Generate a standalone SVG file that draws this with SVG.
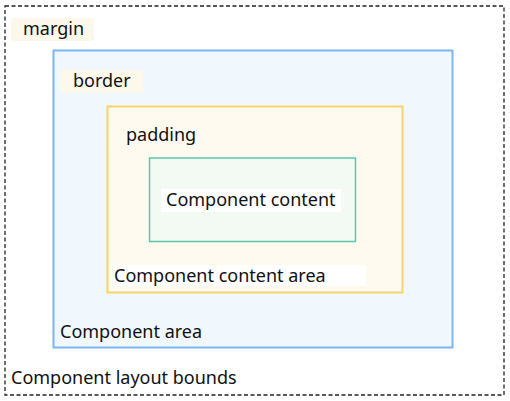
<svg xmlns="http://www.w3.org/2000/svg" width="510" height="401" viewBox="0 0 510 401">
<style>
text{font-family:"Noto Sans","Liberation Sans",sans-serif;font-size:18px;fill:#111111}
</style>
<rect width="510" height="401" fill="#ffffff"/>
<g id="layout-bounds">
<rect x="5" y="6" width="499" height="389" fill="#ffffff" stroke="#222222" stroke-width="1.3" stroke-dasharray="4 2.5"/>
<rect x="11" y="18" width="83" height="23" fill="#fdf8ec"/>
<text x="23" y="35">margin</text>
<text x="11" y="384">Component layout bounds</text>
</g>
<g id="component-area">
<rect x="53.5" y="50.5" width="399" height="297" fill="#f0f8fe" stroke="#7db6ef" stroke-width="2"/>
<rect x="60" y="70" width="83" height="23" fill="#fdf8ec"/>
<text x="73" y="87">border</text>
<text x="60" y="338">Component area</text>
</g>
<g id="content-area">
<rect x="107.5" y="106.5" width="295" height="186" fill="#fffaf0" stroke="#f6d469" stroke-width="2"/>
<text x="126" y="141">padding</text>
<rect x="113" y="265" width="253" height="21" fill="#ffffff"/>
<text x="114" y="282">Component content area</text>
</g>
<g id="content">
<rect x="149.5" y="158" width="206" height="83.5" fill="#f3f9f3" stroke="#5ec5ad" stroke-width="1.5"/>
<rect x="161" y="189" width="180" height="23" fill="#ffffff"/>
<text x="166" y="206">Component content</text>
</g>
<g id="connectors"></g>
</svg>
